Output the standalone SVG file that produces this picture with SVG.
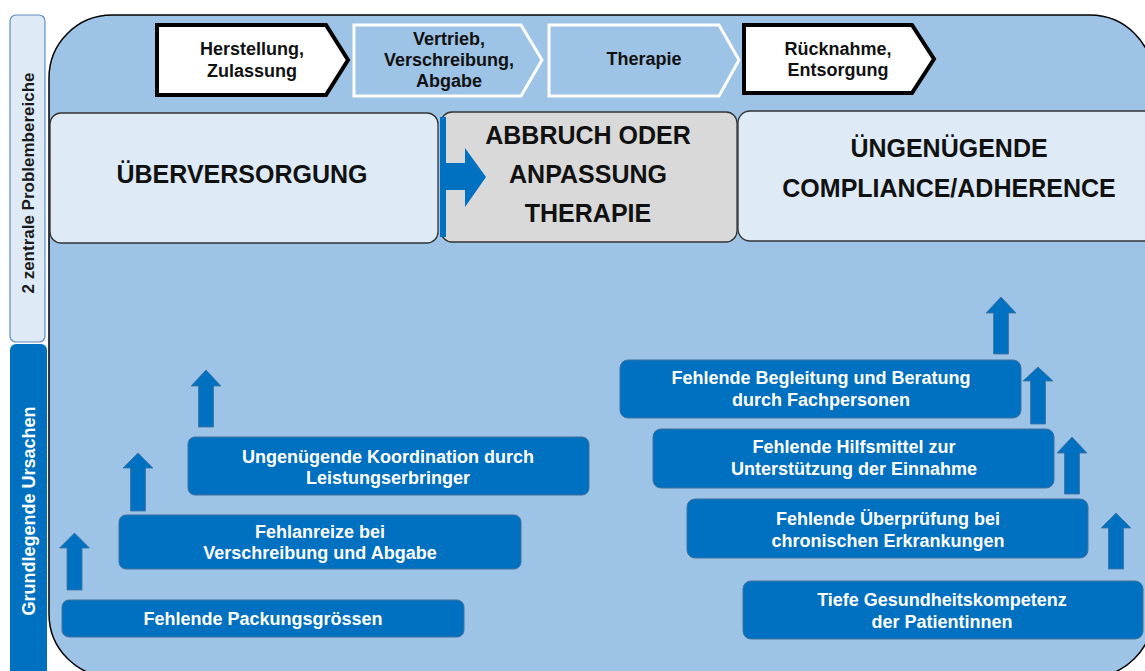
<svg xmlns="http://www.w3.org/2000/svg" width="1145" height="671" viewBox="0 0 1145 671">
<style>
.f{font-family:"Liberation Sans",Arial,sans-serif;font-weight:bold;text-anchor:middle}
.t18{font-size:18px;fill:#111}
.big{font-size:25px;fill:#111}
.side{font-size:17px}
.wt{font-size:18px;fill:#fff}
.chd{fill:#fff;stroke:#000;stroke-width:4}
.chl{fill:#9DC3E6;stroke:#fff;stroke-width:3}
.cause{fill:#0070C0;stroke:#41719C;stroke-width:1}
.arr{fill:#0070C0;stroke:#41719C;stroke-width:0.8}
.pb{stroke:#333;stroke-width:1.3}
</style>
<rect id="background" x="49" y="15" width="1104" height="662" rx="63" fill="#9DC3E6" stroke="#000" stroke-width="1.5"/>
<g id="side-problem">
<rect x="10" y="15" width="35" height="327" rx="6" fill="#DEEBF7" stroke="#5E8CC4" stroke-width="1.2"/>
<text class="f side" fill="#1a1a1a" transform="translate(34,183) rotate(-90)">2 zentrale Problembereiche</text>
</g>
<g id="side-causes">
<rect x="10" y="344" width="37" height="340" rx="6" fill="#0070C0"/>
<text class="f" font-size="18" fill="#fff" transform="translate(35,511) rotate(-90)">Grundlegende Ursachen</text>
</g>
<g id="step-herstellung">
<path class="chd" d="M157,25 L326,25 L348,60 L326,95 L157,95 Z"/>
<text class="f t18" x="252" y="55">Herstellung,</text>
<text class="f t18" x="252" y="77">Zulassung</text>
</g>
<g id="step-vertrieb">
<path class="chl" d="M354,25 L521,25 L542,60 L521,96 L354,96 Z"/>
<text class="f t18" x="449" y="45">Vertrieb,</text>
<text class="f t18" x="449" y="66">Verschreibung,</text>
<text class="f t18" x="449" y="87">Abgabe</text>
</g>
<g id="step-therapie">
<path class="chl" d="M549,25 L719,25 L739,60 L719,96 L549,96 Z"/>
<text class="f t18" x="644" y="65">Therapie</text>
</g>
<g id="step-ruecknahme">
<path class="chd" d="M744,25 L912,25 L934,59 L912,93 L744,93 Z"/>
<text class="f t18" x="838" y="55">Rücknahme,</text>
<text class="f t18" x="838" y="76">Entsorgung</text>
</g>
<g id="problem-ueberversorgung">
<rect class="pb" x="50" y="113" width="388" height="130" rx="11" fill="#DEEBF7"/>
<text class="f big" x="242" y="183">ÜBERVERSORGUNG</text>
</g>
<g id="problem-abbruch">
<rect class="pb" x="441" y="112" width="296" height="130" rx="11" fill="#D9D9D9"/>
<text class="f big" x="588" y="144">ABBRUCH ODER</text>
<text class="f big" x="588" y="183">ANPASSUNG</text>
<text class="f big" x="588" y="222">THERAPIE</text>
</g>
<g id="problem-compliance">
<rect class="pb" x="738" y="111" width="425" height="130" rx="12" fill="#DEEBF7"/>
<text class="f big" x="949" y="157">ÜNGENÜGENDE</text>
<text class="f big" x="949" y="197">COMPLIANCE/ADHERENCE</text>
</g>
<g id="cause-packung">
<rect class="cause" x="62" y="600" width="402" height="37" rx="7"/>
<text class="f wt" x="263" y="625">Fehlende Packungsgrössen</text>
</g>
<g id="cause-fehlanreize">
<rect class="cause" x="119" y="515" width="402" height="54" rx="7"/>
<text class="f wt" x="320" y="538">Fehlanreize bei</text>
<text class="f wt" x="320" y="559">Verschreibung und Abgabe</text>
</g>
<g id="cause-koordination">
<rect class="cause" x="188" y="437" width="401" height="58" rx="7"/>
<text class="f wt" x="388" y="463">Ungenügende Koordination durch</text>
<text class="f wt" x="388" y="484">Leistungserbringer</text>
</g>
<g id="cause-begleitung">
<rect class="cause" x="620" y="360" width="401" height="58" rx="8"/>
<text class="f wt" x="821" y="384">Fehlende Begleitung und Beratung</text>
<text class="f wt" x="821" y="406">durch Fachpersonen</text>
</g>
<g id="cause-hilfsmittel">
<rect class="cause" x="653" y="429" width="401" height="59" rx="8"/>
<text class="f wt" x="854" y="453">Fehlende Hilfsmittel zur</text>
<text class="f wt" x="854" y="475">Unterstützung der Einnahme</text>
</g>
<g id="cause-ueberpruefung">
<rect class="cause" x="687" y="499" width="401" height="59" rx="8"/>
<text class="f wt" x="888" y="525">Fehlende Überprüfung bei</text>
<text class="f wt" x="888" y="547">chronischen Erkrankungen</text>
</g>
<g id="cause-kompetenz">
<rect class="cause" x="743" y="581" width="400" height="58" rx="8"/>
<text class="f wt" x="942" y="606">Tiefe Gesundheitskompetenz</text>
<text class="f wt" x="942" y="628">der Patientinnen</text>
</g>
<g id="connectors">
<rect x="440" y="117" width="6" height="120" fill="#0070C0"/>
<path fill="#0070C0" d="M440,163 L465,163 L465,148 L486,177 L465,207 L465,190 L440,190 Z"/>
<path class="arr" d="M74.5,533 L89.5,548 L82,548 L82,590 L67,590 L67,548 L59.5,548 Z"/>
<path class="arr" d="M138,453 L153,468 L145.5,468 L145.5,511 L130.5,511 L130.5,468 L123,468 Z"/>
<path class="arr" d="M206,370 L221,386 L213.5,386 L213.5,427 L198.5,427 L198.5,386 L191,386 Z"/>
<path class="arr" d="M1001,297 L1016,313 L1008.5,313 L1008.5,354 L993.5,354 L993.5,313 L986,313 Z"/>
<path class="arr" d="M1038,367 L1053,381 L1045.5,381 L1045.5,424 L1030.5,424 L1030.5,381 L1023,381 Z"/>
<path class="arr" d="M1072,437 L1087,453 L1079.5,453 L1079.5,494 L1064.5,494 L1064.5,453 L1057,453 Z"/>
<path class="arr" d="M1116,513 L1131,528 L1123.5,528 L1123.5,569 L1108.5,569 L1108.5,528 L1101,528 Z"/>
</g>
</svg>
